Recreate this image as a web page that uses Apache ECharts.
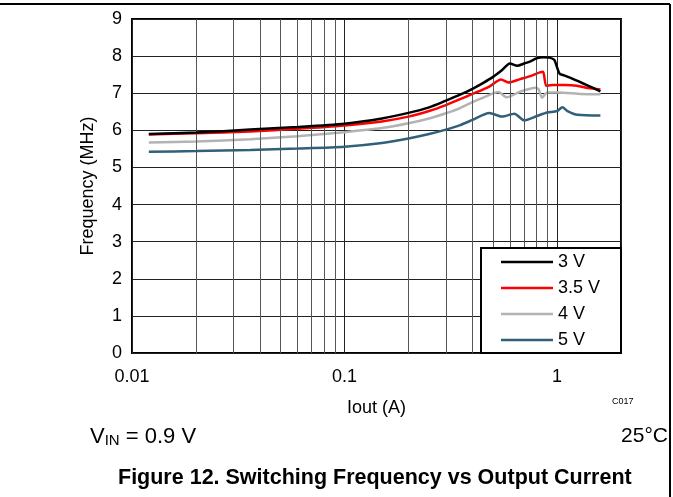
<!DOCTYPE html>
<html><head><meta charset="utf-8">
<script src="https://cdn.jsdelivr.net/npm/echarts@6/dist/echarts.min.js"></script>
<style>html,body{margin:0;padding:0;background:#fff}#c{width:673px;height:497px}</style>
</head><body><div id="c"></div>
<script>
// ---- data ----
const seriesNames = ['3 V', '3.5 V', '4 V', '5 V'];
const seriesColors = ['#000000', '#ff0000', '#b3b3b3', '#31607a'];

const iout3V = [0.012, 0.02, 0.036, 0.06, 0.1, 0.15, 0.2, 0.25, 0.3, 0.35, 0.4, 0.45, 0.5, 0.55, 0.6, 0.65, 0.7, 0.75, 0.8, 0.86, 0.92, 0.97, 1.0, 1.03, 1.08, 1.15, 1.25, 1.38, 1.6];
const freq3V = [5.90, 5.94, 6.02, 6.09, 6.18, 6.32, 6.47, 6.62, 6.80, 6.96, 7.12, 7.28, 7.44, 7.62, 7.80, 7.74, 7.80, 7.86, 7.94, 7.97, 7.96, 7.90, 7.70, 7.52, 7.48, 7.42, 7.33, 7.22, 7.05];

const iout35V = [0.012, 0.02, 0.036, 0.06, 0.1, 0.15, 0.2, 0.25, 0.3, 0.35, 0.4, 0.48, 0.545, 0.59, 0.67, 0.75, 0.83, 0.86, 0.89, 0.95, 1.1, 1.24, 1.4, 1.6];
const freq35V = [5.89, 5.92, 5.97, 6.04, 6.13, 6.24, 6.37, 6.52, 6.68, 6.84, 6.98, 7.18, 7.37, 7.29, 7.38, 7.46, 7.56, 7.58, 7.20, 7.22, 7.22, 7.20, 7.14, 7.10];

const iout4V = [0.012, 0.02, 0.036, 0.06, 0.1, 0.15, 0.2, 0.25, 0.3, 0.35, 0.4, 0.45, 0.53, 0.58, 0.67, 0.79, 0.82, 0.85, 0.9, 1.0, 1.3, 1.6];
const freq4V = [5.67, 5.70, 5.76, 5.84, 5.95, 6.06, 6.19, 6.32, 6.46, 6.60, 6.76, 6.88, 7.03, 6.89, 7.04, 7.15, 7.10, 6.88, 7.02, 7.02, 6.98, 6.97];

const iout5V = [0.012, 0.02, 0.036, 0.06, 0.1, 0.15, 0.2, 0.25, 0.3, 0.35, 0.4, 0.48, 0.55, 0.63, 0.7, 0.8, 0.9, 1.0, 1.06, 1.12, 1.25, 1.6];
const freq5V = [5.42, 5.44, 5.47, 5.51, 5.56, 5.66, 5.78, 5.90, 6.02, 6.14, 6.28, 6.47, 6.37, 6.45, 6.27, 6.38, 6.48, 6.52, 6.62, 6.52, 6.42, 6.40];

const xMinorGrid = [0.02, 0.03, 0.04, 0.05, 0.06, 0.07, 0.08, 0.09, 0.2, 0.3, 0.4, 0.5, 0.6, 0.7, 0.8, 0.9];

const allX = [iout3V, iout35V, iout4V, iout5V];
const allY = [freq3V, freq35V, freq4V, freq5V];

const FONT = 'Liberation Sans, Arial, sans-serif';

const series = seriesNames.map((name, i) => ({
  name: name,
  type: 'line',
  data: allX[i].map((x, k) => [x, allY[i][k]]),
  symbol: 'none',
  smooth: 0.25,
  lineStyle: { color: seriesColors[i], width: 2.5 },
  itemStyle: { color: seriesColors[i] },
  z: 5 - i
}));
series.push({
  name: 'grid',
  type: 'line',
  data: [],
  silent: true,
  z: 1,
  markLine: {
    silent: true,
    symbol: ['none', 'none'],
    label: { show: false },
    lineStyle: { color: '#555', width: 1, type: 'solid' },
    data: xMinorGrid.map(v => ({ xAxis: v }))
  }
});

const chart = echarts.init(document.getElementById('c'), null, { renderer: 'canvas' });
chart.setOption({
  animation: false,
  backgroundColor: '#fff',
  textStyle: { fontFamily: FONT },
  grid: { left: 132, right: 52, top: 19, bottom: 144, show: true, borderColor: '#000', borderWidth: 2, containLabel: false },
  xAxis: {
    type: 'log', logBase: 10, min: 0.01, max: 2,
    name: 'Iout (A)', nameLocation: 'middle', nameGap: 46,
    nameTextStyle: { fontSize: 18, color: '#000', fontFamily: FONT },
    axisLine: { show: false }, axisTick: { show: false },
    axisLabel: { fontSize: 18, color: '#000', margin: 15, fontFamily: FONT, showMaxLabel: false,
      formatter: v => String(+Number(v).toPrecision(6)) },
    splitLine: { show: true, lineStyle: { color: '#222', width: 1 } }
  },
  yAxis: {
    type: 'value', min: 0, max: 9, interval: 1,
    name: 'Frequency (MHz)', nameLocation: 'middle', nameGap: 35,
    nameTextStyle: { fontSize: 18, color: '#000', fontFamily: FONT },
    axisLine: { show: false }, axisTick: { show: false },
    axisLabel: { fontSize: 18, color: '#000', margin: 10, fontFamily: FONT },
    splitLine: { show: true, lineStyle: { color: '#222', width: 1 } }
  },
  legend: {
    data: seriesNames,
    orient: 'vertical', left: 501, top: 253,
    icon: 'rect', itemWidth: 52, itemHeight: 2.5, itemGap: 8,
    textStyle: { fontSize: 18, color: '#000', fontFamily: FONT },
    padding: 0, z: 10
  },
  graphic: [
    { type: 'rect', z: 8, shape: { x: 481, y: 248, width: 140, height: 105 },
      style: { fill: '#fff', stroke: '#000', lineWidth: 2 } },
    { type: 'line', z: 10, shape: { x1: 0, y1: 4, x2: 670, y2: 4 }, style: { stroke: '#000', lineWidth: 2 } },
    { type: 'line', z: 10, shape: { x1: 670, y1: 4, x2: 670, y2: 497 }, style: { stroke: '#000', lineWidth: 2 } },
    { type: 'text', z: 10, left: 612, top: 397, style: { text: 'C017', fontSize: 9, fill: '#000', fontFamily: FONT } },
    { type: 'text', z: 10, left: 90, top: 426, style: {
        text: '{v|V}{s|IN}{v| = 0.9 V}', fill: '#000', fontFamily: FONT,
        rich: { v: { fontSize: 22, fontFamily: FONT, verticalAlign: 'bottom' },
                s: { fontSize: 15, fontFamily: FONT, padding: [10, 0, 0, 0] } } } },
    { type: 'text', z: 10, right: 5, top: 426, style: { text: '25°C', fontSize: 21, fill: '#000', fontFamily: FONT } },
    { type: 'text', z: 10, left: 118, top: 467, style: {
        text: 'Figure 12. Switching Frequency vs Output Current', fontSize: 21.5, fontWeight: 'bold', fill: '#000', fontFamily: FONT } }
  ],
  series: series
});
</script></body></html>
